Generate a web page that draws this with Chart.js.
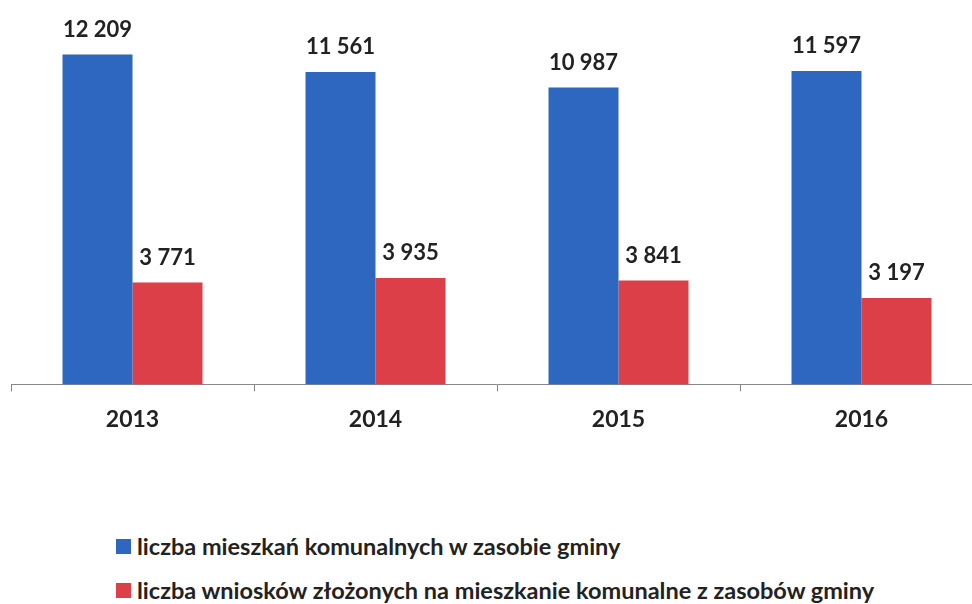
<!DOCTYPE html>
<html>
<head>
<meta charset="utf-8">
<script src="https://cdn.jsdelivr.net/npm/chart.js@4"></script>
<style>
  html, body { margin: 0; padding: 0; background: #fff; overflow: hidden; }
  #wrap { position: relative; width: 984px; height: 604px; }
  #legend { position: absolute; left: 116px; top: 532px; font-family: Lato, sans-serif; font-weight: bold; font-size: 23.5px; color: #222; white-space: nowrap; }
  #legend div { height: 44px; display: flex; align-items: flex-start; }
  #legend span.box { display: inline-block; width: 15px; height: 15px; margin: 7px 6px 0 0; }
</style>
</head>
<body>
<div id="wrap">
  <canvas id="chart" width="984" height="447"></canvas>
  <div id="legend"></div>
</div>
<script>
const years = ['2013', '2014', '2015', '2016'];
const mieszkania = [12209, 11561, 10987, 11597];
const wnioski = [3771, 3935, 3841, 3197];
const seriesNames = [
  'liczba mieszkań komunalnych w zasobie gminy',
  'liczba wniosków złożonych na mieszkanie komunalne z zasobów gminy'
];
const colors = ['#2d67c0', '#dd3f48'];

// numbers like 12 209
function fmt(v) {
  return String(v).replace(/\B(?=(\d{3})+(?!\d))/g, ' ');
}

// draws the value above each bar
const valueLabels = {
  id: 'valueLabels',
  afterDatasetsDraw(chart) {
    const ctx = chart.ctx;
    ctx.save();
    ctx.font = 'bold 22px Lato, sans-serif';
    ctx.fillStyle = '#222';
    ctx.textAlign = 'center';
    ctx.textBaseline = 'middle';
    chart.data.datasets.forEach((ds, i) => {
      chart.getDatasetMeta(i).data.forEach((bar, j) => {
        ctx.fillText(fmt(ds.data[j]), bar.x, bar.y - 25);
      });
    });
    ctx.restore();
  }
};

const config = {
  type: 'bar',
  data: {
    labels: years,
    datasets: [
      { label: seriesNames[0], data: mieszkania, backgroundColor: colors[0] },
      { label: seriesNames[1], data: wnioski, backgroundColor: colors[1] }
    ]
  },
  options: {
    responsive: false,
    animation: false,
    layout: { padding: { left: 11, right: 1, top: 6, bottom: 0 } },
    datasets: { bar: { barPercentage: 1.0, categoryPercentage: 0.576 } },
    plugins: { legend: { display: false }, tooltip: { enabled: false } },
    scales: {
      x: {
        grid: { drawOnChartArea: false, tickLength: 7, color: '#888' },
        border: { color: '#888', width: 1 },
        ticks: { padding: 14, color: '#222', font: { family: 'Lato, sans-serif', weight: 'bold', size: 23 } }
      },
      y: { display: false, min: 0, max: 14000 }
    }
  },
  plugins: [valueLabels]
};

const chart = new Chart(document.getElementById('chart').getContext('2d'), config);

// legend under the chart
const legend = document.getElementById('legend');
chart.data.datasets.forEach(ds => {
  const row = document.createElement('div');
  const box = document.createElement('span');
  box.className = 'box';
  box.style.background = ds.backgroundColor;
  row.appendChild(box);
  row.appendChild(document.createTextNode(ds.label));
  legend.appendChild(row);
});
</script>
</body>
</html>
